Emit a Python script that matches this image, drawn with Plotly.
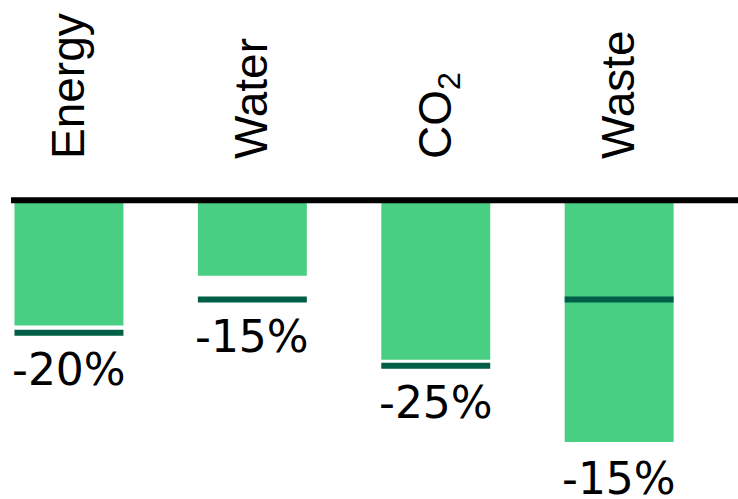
import plotly.graph_objects as go

categories = ["Energy", "Water", "CO<sub>2</sub>", "Waste"]
actual = [-18.9, -11.4, -24.1, -36.5]
target = [-20, -15, -25, -15]
target_labels = ["-20%", "-15%", "-25%", "-15%"]

BAR_GREEN = "#48CF84"
DARK_GREEN = "#005F46"

px_per_unit = 6.62
baseline_px = 200.3
top_margin = 160
height = 499
y_top = (baseline_px - top_margin) / px_per_unit
y_bottom = y_top - (height - top_margin) / px_per_unit

target_thick = 6 / px_per_unit
label_anchor = [min(a, t) for a, t in zip(actual, target)]

fig = go.Figure()
fig.add_trace(go.Bar(
    x=categories, y=actual, marker=dict(color=BAR_GREEN, line=dict(width=0)),
    hoverinfo="skip", showlegend=False,
))
fig.add_trace(go.Bar(
    x=categories, y=[target_thick] * len(target),
    base=[t - target_thick / 2 for t in target],
    marker=dict(color=DARK_GREEN, line=dict(width=0)),
    hoverinfo="skip", showlegend=False,
))

for cat, y, txt in zip(categories, label_anchor, target_labels):
    fig.add_annotation(
        x=cat, y=y, xref="x", yref="y", text=txt, showarrow=False,
        yanchor="top", xanchor="center", yshift=-9,
        font=dict(family="DejaVu Sans", size=44, color="black"),
    )

fig.add_shape(type="line", xref="paper", x0=0, x1=1, yref="y", y0=0, y1=0,
              line=dict(color="black", width=6), layer="above")

fig.update_layout(
    width=738, height=height,
    margin=dict(l=11, r=0, t=top_margin, b=0, pad=0),
    paper_bgcolor="white", plot_bgcolor="white",
    barmode="overlay", bargap=0.406,
    xaxis=dict(
        type="category", categoryarray=categories, range=[-0.316, 3.648],
        side="top", tickangle=-90, ticks="", showline=False, showgrid=False,
        zeroline=False,
        tickfont=dict(family="Liberation Sans", size=46, color="black"),
    ),
    yaxis=dict(range=[y_bottom, y_top], visible=False, showgrid=False,
               zeroline=False),
)

fig.write_html("out.html")
